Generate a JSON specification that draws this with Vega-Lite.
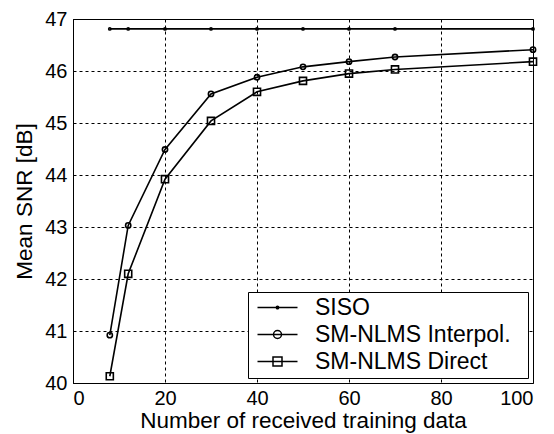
{
  "$schema": "https://vega.github.io/schema/vega-lite/v6.json",
  "width": 460,
  "height": 364,
  "autosize": {"type": "none"},
  "padding": {"left": 73, "top": 19, "right": 21, "bottom": 51},
  "background": "white",
  "config": {
    "font": "Liberation Sans",
    "view": {"stroke": "black", "strokeWidth": 1},
    "axis": {
      "domainColor": "black",
      "labelColor": "black",
      "titleColor": "black",
      "gridColor": "black",
      "gridDash": [3, 3],
      "gridOpacity": 1,
      "gridWidth": 1,
      "ticks": false,
      "labelFontSize": 20,
      "titleFontSize": 22.5,
      "titleFontWeight": "normal"
    }
  },
  "data": {
    "values": [
      {"x": 8, "y": 46.81, "series": "SISO"},
      {"x": 12, "y": 46.81, "series": "SISO"},
      {"x": 20, "y": 46.81, "series": "SISO"},
      {"x": 30, "y": 46.81, "series": "SISO"},
      {"x": 40, "y": 46.81, "series": "SISO"},
      {"x": 50, "y": 46.81, "series": "SISO"},
      {"x": 60, "y": 46.81, "series": "SISO"},
      {"x": 70, "y": 46.81, "series": "SISO"},
      {"x": 100, "y": 46.81, "series": "SISO"},
      {"x": 8, "y": 40.92, "series": "SM-NLMS Interpol."},
      {"x": 12, "y": 43.03, "series": "SM-NLMS Interpol."},
      {"x": 20, "y": 44.49, "series": "SM-NLMS Interpol."},
      {"x": 30, "y": 45.56, "series": "SM-NLMS Interpol."},
      {"x": 40, "y": 45.88, "series": "SM-NLMS Interpol."},
      {"x": 50, "y": 46.08, "series": "SM-NLMS Interpol."},
      {"x": 60, "y": 46.18, "series": "SM-NLMS Interpol."},
      {"x": 70, "y": 46.27, "series": "SM-NLMS Interpol."},
      {"x": 100, "y": 46.41, "series": "SM-NLMS Interpol."},
      {"x": 8, "y": 40.13, "series": "SM-NLMS Direct"},
      {"x": 12, "y": 42.1, "series": "SM-NLMS Direct"},
      {"x": 20, "y": 43.92, "series": "SM-NLMS Direct"},
      {"x": 30, "y": 45.04, "series": "SM-NLMS Direct"},
      {"x": 40, "y": 45.6, "series": "SM-NLMS Direct"},
      {"x": 50, "y": 45.81, "series": "SM-NLMS Direct"},
      {"x": 60, "y": 45.95, "series": "SM-NLMS Direct"},
      {"x": 70, "y": 46.03, "series": "SM-NLMS Direct"},
      {"x": 100, "y": 46.18, "series": "SM-NLMS Direct"}
    ]
  },
  "encoding": {
    "x": {
      "field": "x",
      "type": "quantitative",
      "scale": {"domain": [0, 100], "nice": false},
      "axis": {
        "values": [0, 20, 40, 60, 80, 100],
        "title": "Number of received training data",
        "labelPadding": 5,
        "titlePadding": 1
      }
    },
    "y": {
      "field": "y",
      "type": "quantitative",
      "scale": {"domain": [40, 47], "nice": false, "zero": false},
      "axis": {
        "values": [40, 41, 42, 43, 44, 45, 46, 47],
        "title": "Mean SNR [dB]",
        "labelPadding": 6,
        "titlePadding": 8
      }
    }
  },
  "layer": [
    {
      "mark": {"type": "line", "color": "black", "strokeWidth": 1.6},
      "encoding": {"detail": {"field": "series"}}
    },
    {
      "mark": {"type": "point", "color": "black", "filled": false, "strokeWidth": 1.6, "opacity": 1},
      "encoding": {
        "shape": {
          "field": "series",
          "type": "nominal",
          "scale": {"domain": ["SISO", "SM-NLMS Interpol.", "SM-NLMS Direct"], "range": ["circle", "circle", "square"]},
          "legend": null
        },
        "size": {
          "field": "series",
          "type": "nominal",
          "scale": {"domain": ["SISO", "SM-NLMS Interpol.", "SM-NLMS Direct"], "range": [5, 50, 81]},
          "legend": null
        }
      }
    },
    {
      "mark": {"type": "point", "color": "black", "filled": false, "strokeWidth": 1.5, "opacity": 0, "size": 400},
      "encoding": {
        "shape": {
          "field": "series",
          "type": "nominal",
          "scale": {
            "domain": ["SISO", "SM-NLMS Interpol.", "SM-NLMS Direct"],
            "range": [
              "M-2,0H2M0.12,0A0.12,0.12,0,1,1,-0.12,0A0.12,0.12,0,1,1,0.12,0",
              "M-2,0H2M0.4,0A0.4,0.4,0,1,1,-0.4,0A0.4,0.4,0,1,1,0.4,0",
              "M-2,0H2M-0.45,-0.45H0.45V0.45H-0.45Z"
            ]
          },
          "legend": {
            "title": " ",
            "titleOrient": "right",
            "titleFontSize": 1,
            "titlePadding": 13,
            "orient": "bottom-right",
            "offset": 5,
            "padding": 4,
            "strokeColor": "black",
            "fillColor": "white",
            "symbolOpacity": 1,
            "symbolStrokeColor": "black",
            "symbolFillColor": "transparent",
            "symbolStrokeWidth": 1.5,
            "symbolSize": 400,
            "symbolOffset": 14,
            "labelOffset": 26,
            "labelFontSize": 23,
            "labelColor": "black",
            "labelLimit": 400,
            "rowPadding": 3
          }
        }
      }
    }
  ],
  "resolve": {"scale": {"shape": "independent", "size": "independent"}, "legend": {"shape": "independent"}}
}
